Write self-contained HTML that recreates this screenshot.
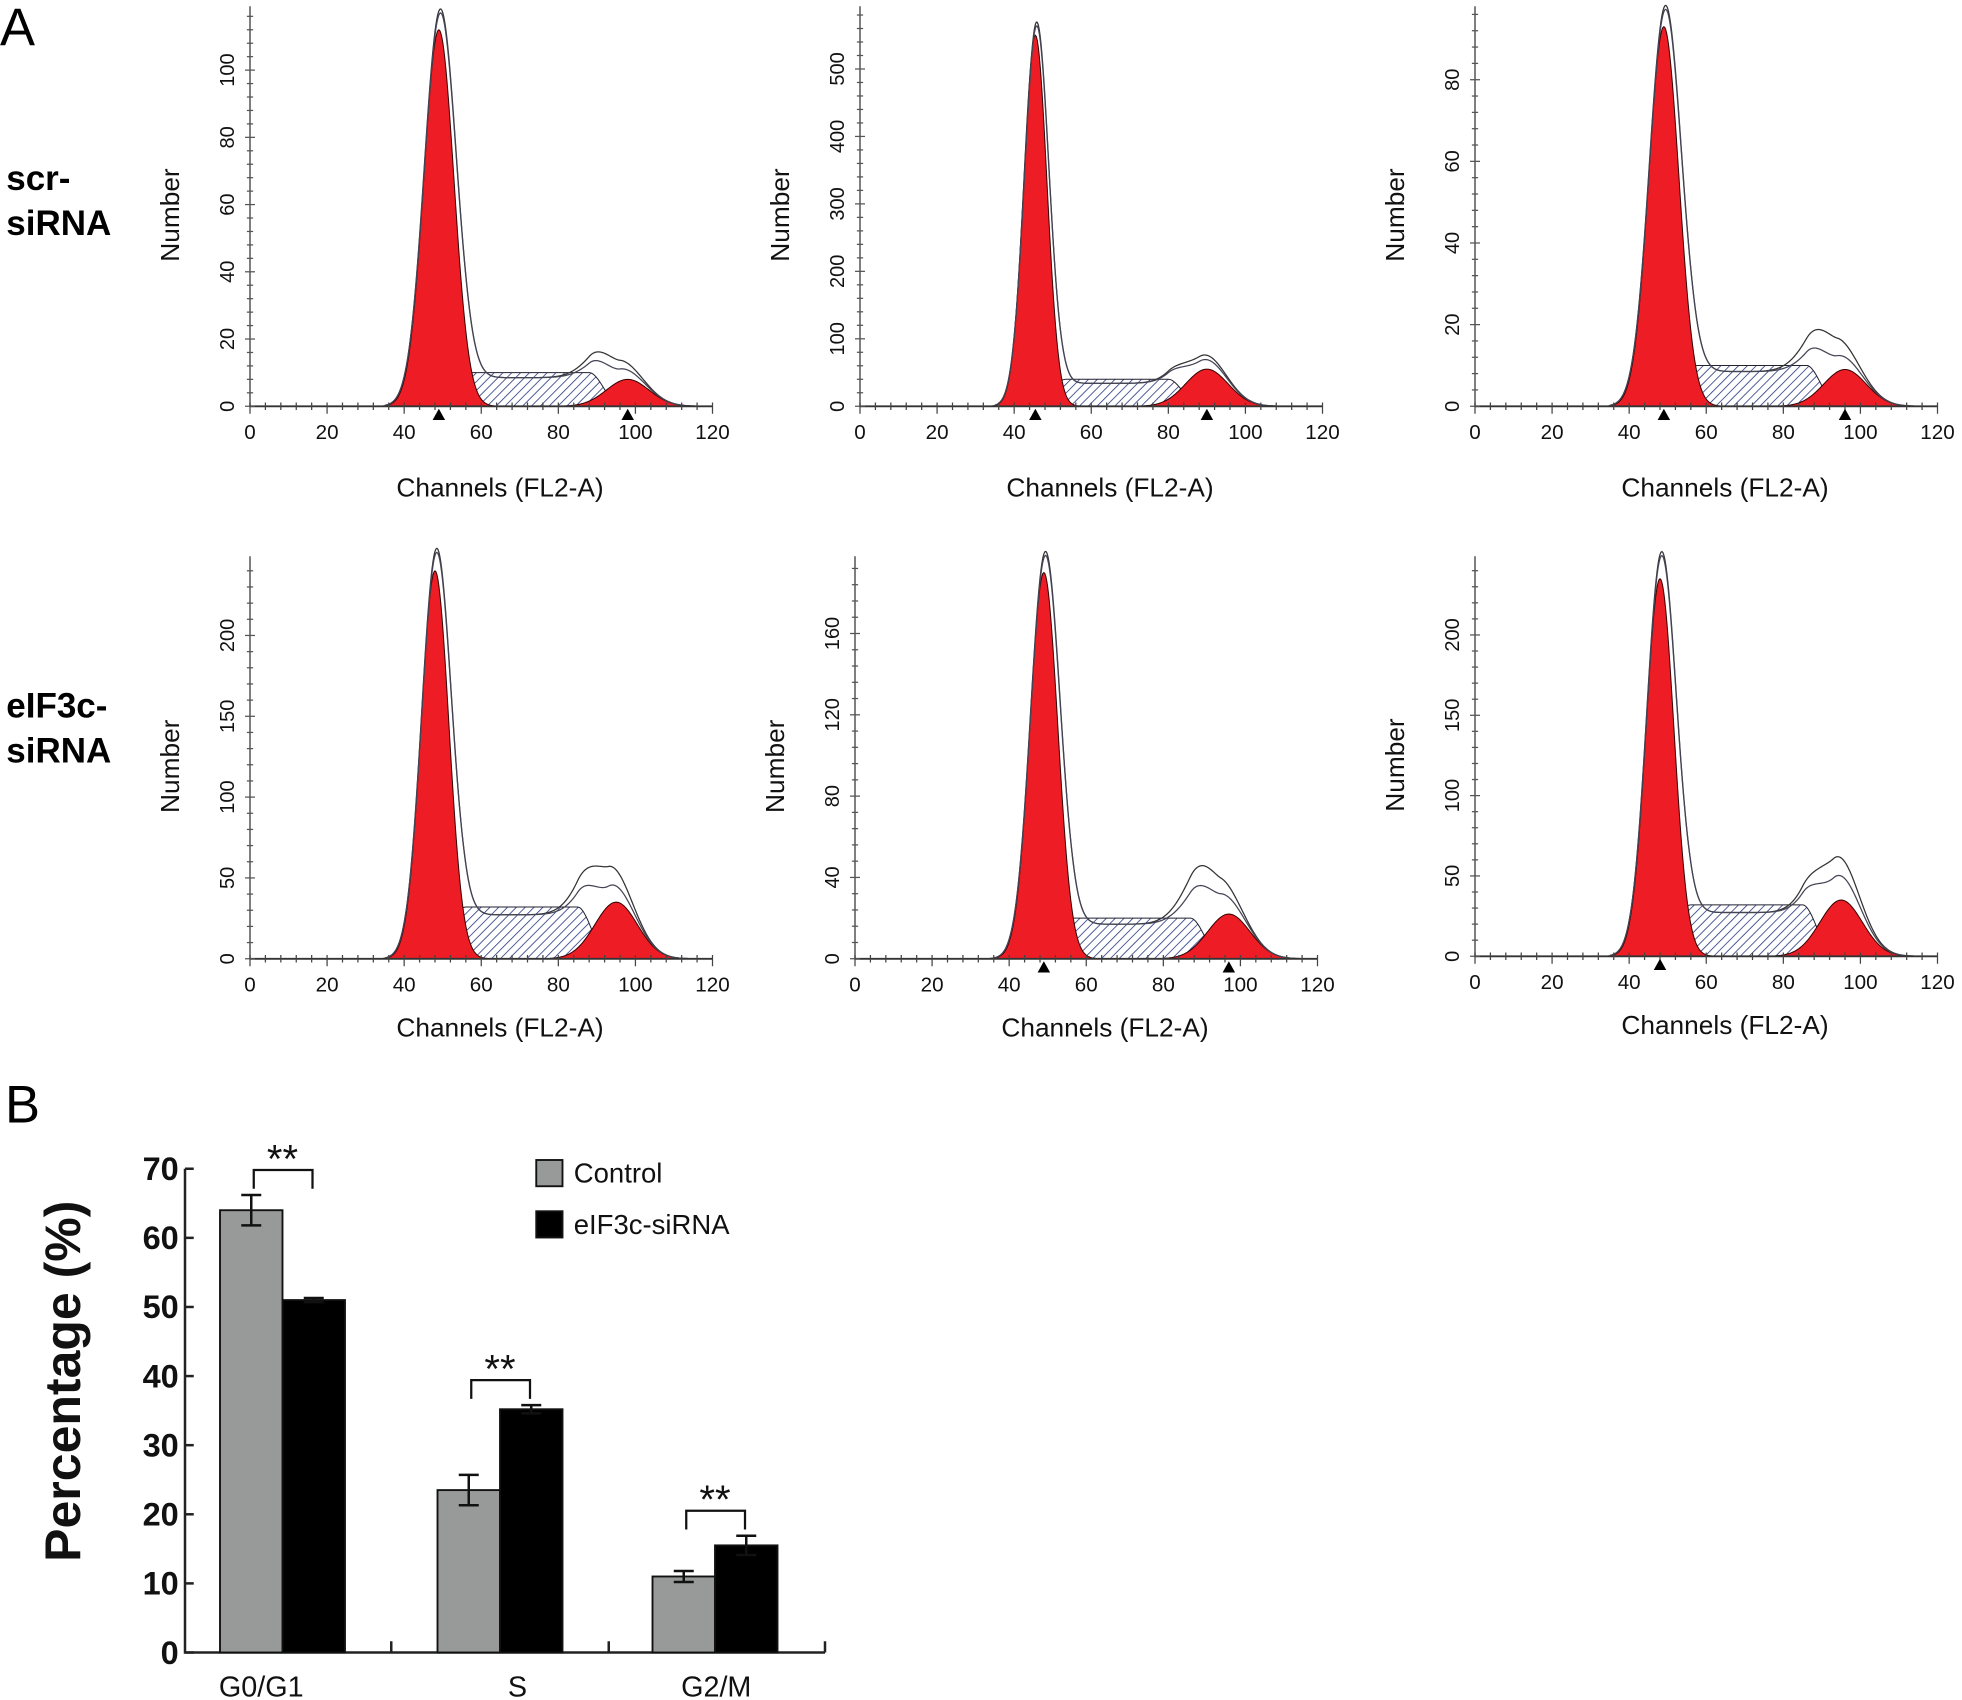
<!DOCTYPE html>
<html><head><meta charset="utf-8"><style>
html,body{margin:0;padding:0;background:#fff;}
svg{display:block;}
text{font-family:"Liberation Sans",sans-serif;}
</style></head><body>
<svg id="fig" width="1962" height="1700" viewBox="0 0 1569.6 1360" xmlns="http://www.w3.org/2000/svg">
<defs>
<pattern id="hatch" patternUnits="userSpaceOnUse" width="5" height="5" patternTransform="rotate(45)">
<rect width="5" height="5" fill="#fff"/><line x1="0" y1="0" x2="0" y2="5" stroke="#2a3a80" stroke-width="1.3"/>
</pattern>
</defs>
<text x="0" y="36" font-size="42">A</text>
<text x="4" y="898" font-size="42">B</text>
<g font-size="28" font-weight="bold"><text x="5" y="152">scr-</text><text x="5" y="188">siRNA</text></g>
<g font-size="28" font-weight="bold"><text x="5" y="574">eIF3c-</text><text x="5" y="610">siRNA</text></g>
<g id="hists"></g>
<g id="bars"></g>
</svg>
<script>
// Histogram panel data
const panelNames = ['scr-1','scr-2','scr-3','eif-1','eif-2','eif-3'];
const yMaxs = [119, 593, 98, 249, 198, 249];
const yTickStep = [20, 100, 20, 50, 40, 50];
const g1Means = [49, 45.5, 49, 48, 49, 48];
const g1Peaks = [112, 550, 93, 240, 190, 235];
const g1Outline = [117, 565, 97, 250, 198, 248];
const g1Sds = [3.9, 3.0, 3.9, 3.6, 3.6, 3.6];
const sLevels = [10, 40, 10, 32, 20, 32];
const g2Means = [98, 90, 96, 95, 97, 95];
const g2Peaks = [8, 55, 9, 35, 22, 35];
const envPeaks = [17, 75, 20, 63, 48, 65];
const env2Peaks = [14, 68, 15, 50, 38, 53];
const envMeans = [93, 88, 91, 91, 91, 93];
const markerPanels = [true, true, true, false, true, true];
// layout
const ox = [200, 688, 1180, 200, 684, 1180];
const zeroY = [325, 325, 325, 767, 767, 765];
const topY = [5, 5, 5, 445, 445, 445];

const NS='http://www.w3.org/2000/svg';
function mk(tag, attrs, parent){const e=document.createElementNS(NS,tag);for(const k in attrs)e.setAttribute(k,attrs[k]);parent.appendChild(e);return e;}
const gauss=(x,m,s)=>Math.exp(-0.5*((x-m)/s)**2);
function smooth(t){t=Math.max(0,Math.min(1,t));return t*t*(3-2*t);}
const hists=document.getElementById('hists');
panelNames.forEach((nm,i)=>{
  const g=mk('g',{},hists);
  
  
  const sx=c=>ox[i]+c*(370/120);
  const sy=v=>zeroY[i]-v*(zeroY[i]-topY[i])/yMaxs[i];
  const S=c=>sLevels[i]*smooth((c-(g1Means[i]-2))/10)*(1-smooth((c-(g2Means[i]-10))/8));
  const G1=c=>g1Peaks[i]*gauss(c,g1Means[i],g1Sds[i]);
  const G2=c=>g2Peaks[i]*gauss(c,g2Means[i],5.5);
  function area(f,a,b){let d='M'+sx(a)+','+sy(0);for(let c=a;c<=b;c+=0.25)d+=' L'+sx(c).toFixed(2)+','+sy(f(c)).toFixed(2);return d+' L'+sx(b)+','+sy(0)+'Z';}
  function line(f,a,b){let d='';for(let c=a;c<=b;c+=0.25)d+=(d?' L':'M')+sx(c).toFixed(2)+','+sy(f(c)).toFixed(2);return d;}
  const hs=mk('path',{d:area(S,g1Means[i]-12,g2Means[i]+5),fill:'url(#hatch)',stroke:'#223',"stroke-width":0.8},g);
  
  const r1=mk('path',{d:area(G1,g1Means[i]-15,g1Means[i]+15),fill:'#ee1c24',stroke:'#300',"stroke-width":0.8},g);
  
  const r2=mk('path',{d:area(G2,g2Means[i]-17,g2Means[i]+17),fill:'#ee1c24',stroke:'#300',"stroke-width":0.8},g);
  
  const G1o=c=>g1Outline[i]*gauss(c,g1Means[i]+0.3,g1Sds[i]*1.05);
  const bump=(h)=>c=>Math.max(0,(h-sLevels[i]*0.5-g2Peaks[i]*0.6))*gauss(c,envMeans[i],5.5);
  const e1=c=>G1o(c)+S(c)*0.85+G2(c)+bump(envPeaks[i])(c);
  const e2=c=>G1o(c)*0.99+S(c)*0.85+G2(c)+bump(env2Peaks[i])(c);
  const l1=mk('path',{d:line(e1,35,117),fill:'none',stroke:'#333',"stroke-width":1},g);
  
  const l2=mk('path',{d:line(e2,35,117),fill:'none',stroke:'#445',"stroke-width":1},g);
  
  const ya=mk('line',{x1:ox[i],y1:topY[i],x2:ox[i],y2:zeroY[i],stroke:'#555',"stroke-width":1.2},g);
  
  const xa=mk('line',{x1:ox[i],y1:zeroY[i],x2:sx(120),y2:zeroY[i],stroke:'#333',"stroke-width":1.5},g);
  
  const st=yTickStep[i]/5;
  for(let v=0;v<=yMaxs[i];v+=st){const major=Math.abs(v/yTickStep[i]-Math.round(v/yTickStep[i]))<1e-6;
    mk('line',{x1:ox[i]-(major?4:2.5),y1:sy(v),x2:ox[i]+(major?4:2.5),y2:sy(v),stroke:'#555',"stroke-width":1},g);
    if(major){const t=mk('text',{x:0,y:0,"font-size":16,"text-anchor":"middle",transform:`translate(${ox[i]-13},${sy(v)}) rotate(-90)`,fill:'#111'},g);t.textContent=Math.round(v);
      }}
  for(let c=0;c<=120;c+=4){const major=c%20===0;
    mk('line',{x1:sx(c),y1:zeroY[i]-3,x2:sx(c),y2:zeroY[i]+(major?6:3),stroke:'#444',"stroke-width":1},g);
    if(major){const t=mk('text',{x:sx(c),y:zeroY[i]+26,"font-size":16.5,"text-anchor":"middle",fill:'#111'},g);t.textContent=c;
      }}
  if(markerPanels[i]){[g1Means[i],g2Means[i]].forEach((c,k)=>{if(i===5&&k===1)return;
    const m=mk('path',{d:`M${sx(c)-5},${zeroY[i]+11} L${sx(c)+5},${zeroY[i]+11} L${sx(c)},${zeroY[i]+2}Z`,fill:'#000'},g);
    });}
  const xt=mk('text',{x:ox[i]+200,y:zeroY[i]+(i<3?72:62),"font-size":21,"text-anchor":"middle",fill:'#111'},g);xt.textContent='Channels (FL2-A)';
  
  const yt=mk('text',{x:0,y:0,"font-size":21,"text-anchor":"middle",transform:`translate(${ox[i]-57},${(topY[i]+zeroY[i])/2+7}) rotate(-90)`,fill:'#111'},g);yt.textContent='Number';
  
});

// Bar chart data
const categories = ['G0/G1','S','G2/M'];
const controlVals = [64, 23.5, 11];
const controlErr = [2.2, 2.2, 0.8];
const sirnaVals = [51, 35.2, 15.5];
const sirnaErr = [0.3, 0.6, 1.4];
const yTicks = [0,10,20,30,40,50,60,70];
const bars=document.getElementById('bars');
const bx0=148, by0=1322, pxPer=(1322-935)/70;
const by=v=>by0-v*pxPer;
const catCenters=[226,400,572], bw=50;
const ax=mk('path',{d:`M${bx0},${by(70)} L${bx0},${by0} L660,${by0}`,fill:'none',stroke:'#222',"stroke-width":2},bars);

yTicks.forEach(v=>{mk('line',{x1:bx0,y1:by(v),x2:bx0+7,y2:by(v),stroke:'#222',"stroke-width":2},bars);
  const t=mk('text',{x:bx0-5,y:by(v)+9,"font-size":26,"font-weight":"bold","text-anchor":"end","font-family":"Liberation Serif, serif",fill:'#111'},bars);t.textContent=v;
  });
[313,487,660].forEach(x=>mk('line',{x1:x,y1:by0,x2:x,y2:by0-9,stroke:'#222',"stroke-width":2},bars));
categories.forEach((c,k)=>{
  const cx=catCenters[k];
  const r1=mk('rect',{x:cx-bw,y:by(controlVals[k]),width:bw,height:by0-by(controlVals[k]),fill:'#979a98',stroke:'#111',"stroke-width":1.5},bars);
  
  const r2=mk('rect',{x:cx,y:by(sirnaVals[k]),width:bw,height:by0-by(sirnaVals[k]),fill:'#000',stroke:'#111',"stroke-width":1.5},bars);
  
  [[cx-bw/2,controlVals[k],controlErr[k]],[cx+bw/2,sirnaVals[k],sirnaErr[k]]].forEach(([x,v,e])=>{
    const eb=mk('path',{d:`M${x},${by(v+e)} L${x},${by(v-e)} M${x-8},${by(v+e)} L${x+8},${by(v+e)} M${x-8},${by(v-e)} L${x+8},${by(v-e)}`,stroke:'#111',"stroke-width":2,fill:'none'},bars);
    });
  const top=by(Math.max(controlVals[k]+controlErr[k],sirnaVals[k]+sirnaErr[k]))-20;
  const br=mk('path',{d:`M${cx-23},${top+15} L${cx-23},${top} L${cx+24},${top} L${cx+24},${top+15}`,fill:'none',stroke:'#111',"stroke-width":1.8},bars);
  
  const st=mk('text',{x:cx,y:top+2,"font-size":32,"text-anchor":"middle",fill:'#111'},bars);st.textContent='**';
  
  const cl=mk('text',{x:[209,414,573][k],y:1357,"font-size":23,"text-anchor":"middle",fill:'#111'},bars);cl.textContent=c;
  
});
const yl=mk('text',{x:0,y:0,"font-size":40,"font-weight":"bold","text-anchor":"middle",transform:'translate(64,1105) rotate(-90)',fill:'#111'},bars);yl.textContent='Percentage (%)';

[['Control','#979a98',938],['eIF3c-siRNA','#000',979]].forEach(([lab,col,y])=>{
  const g=mk('g',{},bars);
  
  mk('rect',{x:429,y:y-10,width:21,height:21,fill:col,stroke:'#111',"stroke-width":1.5},g);
  const t=mk('text',{x:459,y:y+8,"font-size":22,fill:'#111'},g);t.textContent=lab;
});
</script>
</body></html>
